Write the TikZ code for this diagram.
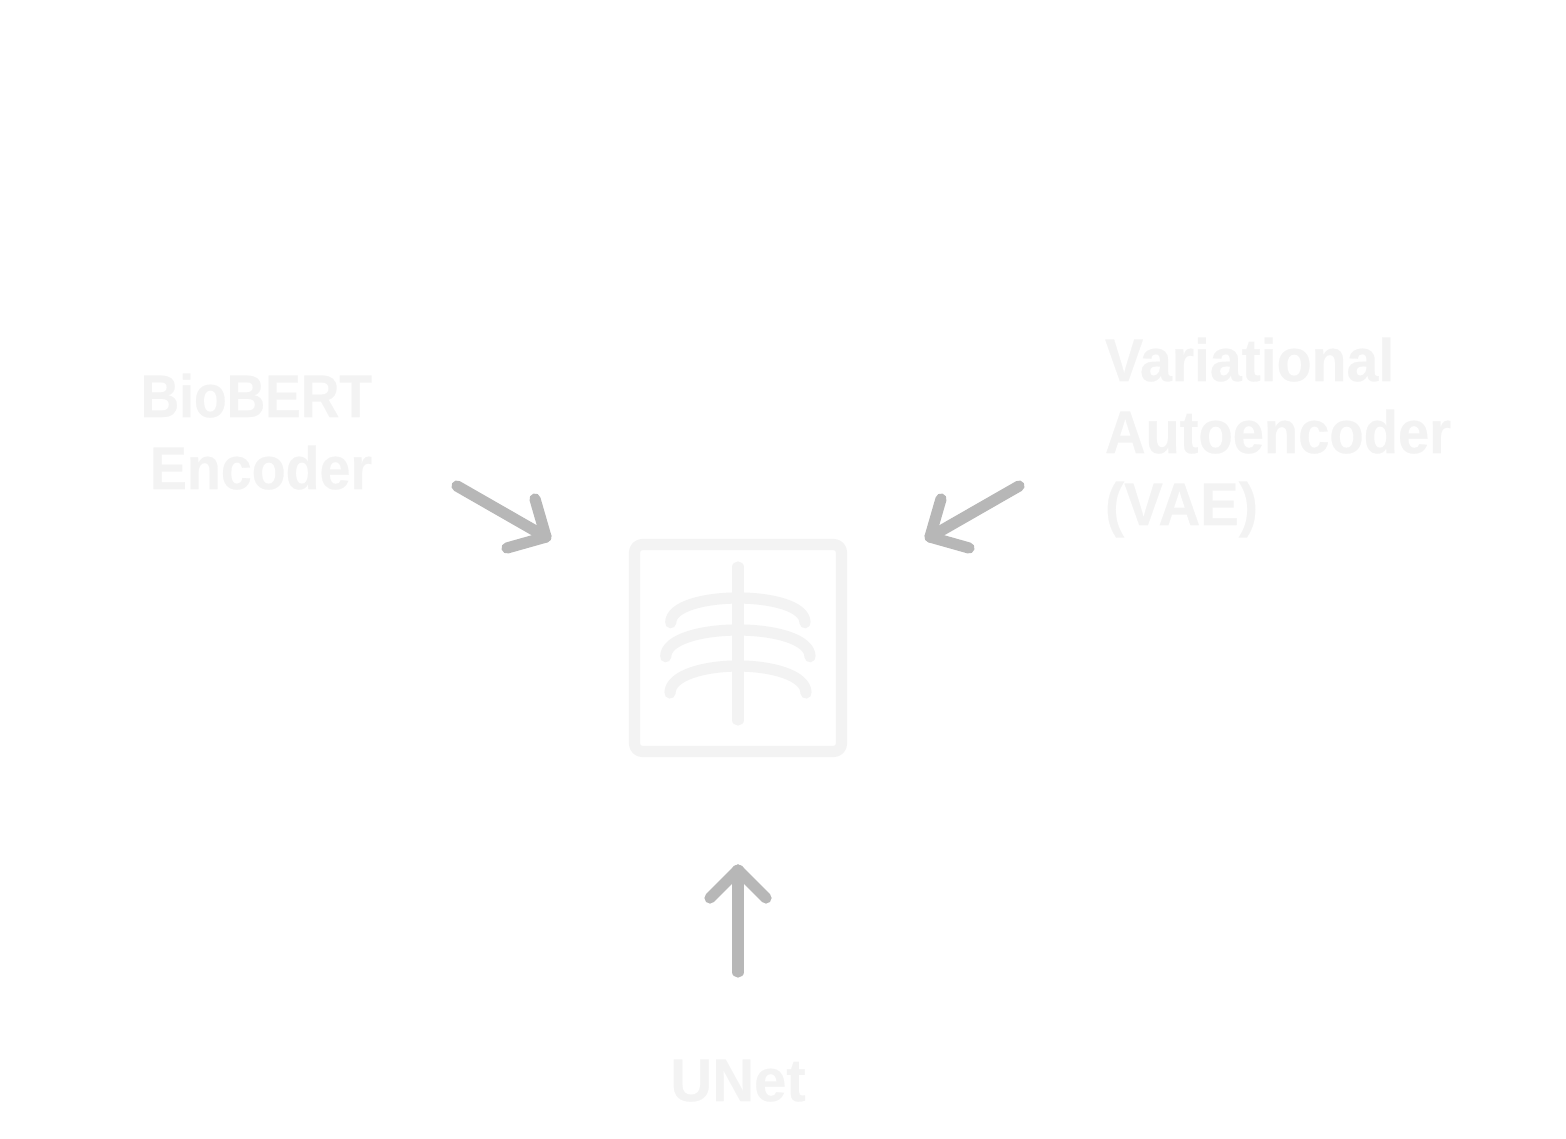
\documentclass[tikz,border=0pt]{standalone}
\usepackage{fontspec}
\setmainfont{Liberation Sans}[UprightFont=* Bold]
\newcommand{\lineat}[2]{{\addfontfeatures{FakeStretch=#1,FakeBold=0.35}#2}}
\definecolor{pale}{HTML}{F3F3F3}
\definecolor{arrowgrey}{HTML}{B7B7B7}
\tikzset{
  x=0.75pt,y=-0.75pt,
  label text/.style={text=pale,inner sep=0pt,outer sep=0pt,font=\fontsize{45}{54}\selectfont},
  icon line/.style={draw=pale,line width=8.4pt,line cap=round,line join=round},
  flow line/.style={draw=arrowgrey,line width=8.4pt,line cap=round,line join=round}
}
\begin{document}
\begin{tikzpicture}
\useasboundingbox (0,0) rectangle (1566,1138);
\fill[white] (0,0) rectangle (1566,1138);
% labels
\node[label text,anchor=base east,align=right] (biobert) at (372,489) {\lineat{0.89}{BioBERT}\\\lineat{0.925}{Encoder}};
\node[label text,anchor=base west,align=left] (vae) at (1105,525) {\lineat{0.953}{Variational}\\\lineat{0.935}{Autoencoder}\\\lineat{0.963}{(VAE)}};
\node[label text,anchor=base] (unet) at (738,1101) {\lineat{0.966}{UNet}};
% icon
\draw[icon line,rounded corners=6pt] (634.5,544.5) rectangle (841.5,751.5);
\draw[icon line] (738,567) -- (738,720);
\draw[icon line] (670.7,622.7) .. controls (670.7,606) and (705,598) .. (738,598) .. controls (771,598) and (805,606) .. (805,622.7);
\draw[icon line] (665.7,656.7) .. controls (665.7,639) and (702,630) .. (738,630) .. controls (774,630) and (810,639) .. (810,656.7);
\draw[icon line] (670,693) .. controls (670,675) and (705,666) .. (738,666) .. controls (771,666) and (806,675) .. (806,693);
% connectors
\coordinate (lstart) at (457,486);
\coordinate (ltip) at (546,537);
\coordinate (lw1) at (535,499);
\coordinate (lw2) at (507,548);
\draw[flow line] (lstart) -- (ltip);
\draw[flow line] (lw1) -- (ltip) -- (lw2);
\coordinate (rstart) at (1019,486);
\coordinate (rtip) at (930,537);
\coordinate (rw1) at (941,499);
\coordinate (rw2) at (969,548);
\draw[flow line] (rstart) -- (rtip);
\draw[flow line] (rw1) -- (rtip) -- (rw2);
\coordinate (ustart) at (738,972);
\coordinate (utip) at (738,870);
\coordinate (uw1) at (710,898);
\coordinate (uw2) at (766,898);
\draw[flow line] (ustart) -- (utip);
\draw[flow line] (uw1) -- (utip) -- (uw2);
\end{tikzpicture}
\end{document}
